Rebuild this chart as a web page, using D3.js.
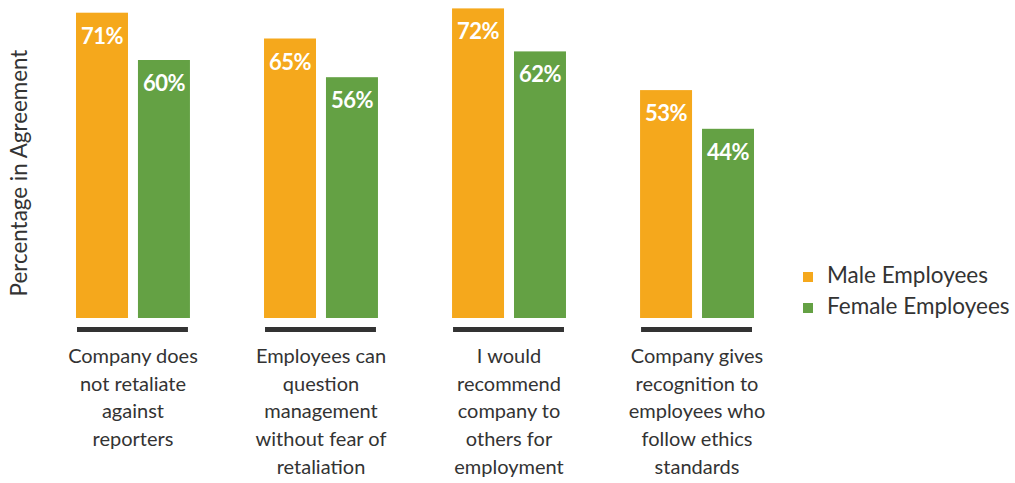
<!DOCTYPE html>
<html>
<head>
<meta charset="utf-8">
<script src="https://cdn.jsdelivr.net/npm/d3@7"></script>
<style>
body { margin: 0; background: #fff; }
text { font-family: Lato, "Open Sans", sans-serif; }
</style>
</head>
<body>
<div id="chart-area"></div>
<script>
var categories = [
	["Company does", "not retaliate", "against", "reporters"],
	["Employees can", "question", "management", "without fear of", "retaliation"],
	["I would", "recommend", "company to", "others for", "employment"],
	["Company gives", "recognition to", "employees who", "follow ethics", "standards"]
];
var male = [71, 65, 72, 53];
var female = [60, 56, 62, 44];
var seriesNames = ["Male Employees", "Female Employees"];
var colors = ["#F5A81C", "#64A144"];

var width = 1015, height = 483;
var baseY = 318;

var svg = d3.select("#chart-area").append("svg")
	.attr("width", width)
	.attr("height", height);

var x = d3.scaleBand()
	.domain(d3.range(categories.length))
	.range([76, 754])
	.paddingInner(0.394)
	.paddingOuter(0);

var x1 = d3.scaleBand()
	.domain([0, 1])
	.range([0, x.bandwidth()])
	.paddingInner(0.161);

var y = d3.scaleLinear()
	.domain([0, 100])
	.range([baseY, baseY - 430]);

var groups = svg.selectAll("g.group")
	.data(categories.map((c, i) => ({ i: i, label: c, vals: [male[i], female[i]] })))
	.enter().append("g")
	.attr("class", "group")
	.attr("transform", (d) => "translate(" + x(d.i) + ",0)");

groups.selectAll("rect.bar")
	.data((d) => d.vals)
	.enter().append("rect")
	.attr("class", "bar")
	.attr("x", (d, j) => x1(j))
	.attr("y", (d) => y(d))
	.attr("width", x1.bandwidth())
	.attr("height", (d) => baseY - y(d))
	.attr("fill", (d, j) => colors[j]);

groups.selectAll("text.val")
	.data((d) => d.vals)
	.enter().append("text")
	.attr("class", "val")
	.attr("x", (d, j) => x1(j) + x1.bandwidth() / 2)
	.attr("y", (d) => y(d) + 31)
	.attr("text-anchor", "middle")
	.attr("font-size", "22px")
	.attr("font-weight", "bold")
	.attr("letter-spacing", "-0.5px")
	.attr("fill", "#fff")
	.text((d) => d + "%");

// baseline under each group
groups.append("rect")
	.attr("x", 1)
	.attr("y", 327)
	.attr("width", x.bandwidth() - 3)
	.attr("height", 5)
	.attr("fill", "#333");

groups.each(function(d) {
	var t = d3.select(this).append("text")
		.attr("text-anchor", "middle")
		.attr("font-size", "20px")
		.attr("fill", "#333");
	d.label.forEach((line, k) => {
		t.append("tspan")
			.attr("x", x.bandwidth() / 2)
			.attr("y", 363 + k * 27.7)
			.text(line);
	});
});

svg.append("text")
	.attr("transform", "translate(27,173) rotate(-90)")
	.attr("text-anchor", "middle")
	.attr("font-size", "22.4px")
	.attr("fill", "#333")
	.text("Percentage in Agreement");

var legend = svg.selectAll("g.legend")
	.data(seriesNames)
	.enter().append("g")
	.attr("class", "legend")
	.attr("transform", (d, i) => "translate(803," + (272 + i * 31) + ")");

legend.append("rect")
	.attr("width", 10)
	.attr("height", 10)
	.attr("fill", (d, i) => colors[i]);

legend.append("text")
	.attr("x", 24)
	.attr("y", 11)
	.attr("font-size", "22.5px")
	.attr("fill", "#333")
	.text((d) => d);
</script>
</body>
</html>
